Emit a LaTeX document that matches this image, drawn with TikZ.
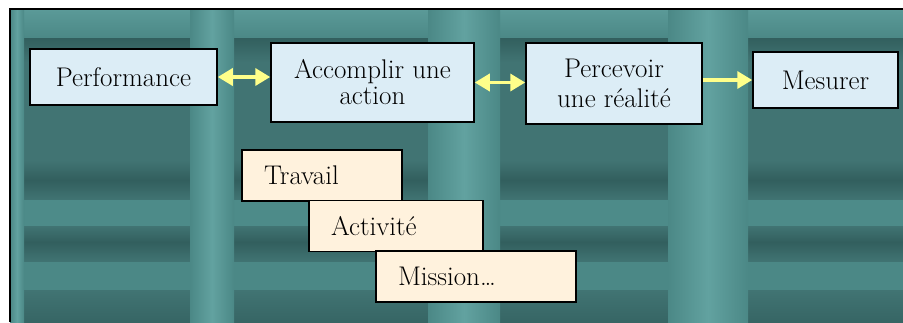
\documentclass[tikz,border=0pt]{standalone}
\usepackage{fontspec}
\usetikzlibrary{arrows.meta}

\definecolor{tealbase}{HTML}{4B8886}
\definecolor{tealdark}{HTML}{325F5E}
\definecolor{tealmid}{HTML}{417473}
\definecolor{teallight}{HTML}{62A2A0}
\definecolor{boxblue}{HTML}{DCEDF6}
\definecolor{boxcream}{HTML}{FFF2DD}
\definecolor{arrowyellow}{HTML}{FFFF8A}

\tikzset{
  bluebox/.style={draw=black, line width=1.5pt, fill=boxblue, align=center,
    inner sep=0pt, font=\fontsize{27}{26}\selectfont},
  creambox/.style={draw=black, line width=1.5pt, fill=boxcream, align=left,
    inner xsep=22pt, inner ysep=0pt, minimum height=51pt,
    font=\fontsize{27}{26}\selectfont},
  link/.style={arrowyellow, line width=3.5pt, -{Triangle[length=15pt,width=17pt]}},
  twolink/.style={link, {Triangle[length=15pt,width=17pt]}-{Triangle[length=15pt,width=17pt]}}
}

\begin{document}
\begin{tikzpicture}[x=1pt, y=-1pt]
    \useasboundingbox (0,0) rectangle (903,322);

    % Background: shutters
    \fill[tealbase] (10,9) rectangle (903,322);
    \fill[top color=teallight!70!tealbase, bottom color=tealbase] (10,9) rectangle (903,38);
    \foreach \xa/\xb in {22/192, 232/430, 498/670, 746/903} {
        \fill[top color=tealdark, bottom color=tealmid] (\xa,38) rectangle (\xb,62);
        \fill[tealmid] (\xa,62) rectangle (\xb,160);
        \fill[top color=tealmid, bottom color=tealdark] (\xa,160) rectangle (\xb,180);
        \fill[top color=tealdark, bottom color=tealmid] (\xa,180) rectangle (\xb,200);
        \fill[tealbase!90!teallight] (\xa,200) rectangle (\xb,226);
        \fill[top color=tealmid, bottom color=tealdark] (\xa,226) rectangle (\xb,242);
        \fill[top color=tealdark, bottom color=tealmid] (\xa,242) rectangle (\xb,262);
        \fill[tealbase] (\xa,262) rectangle (\xb,290);
        \fill[top color=tealmid, bottom color=tealdark!70!tealmid] (\xa,290) rectangle (\xb,322);
    }
    \foreach \xa/\xb in {10/24, 190/234, 428/500, 668/748} {
        \fill[left color=tealbase, right color=tealbase, middle color=teallight]
            (\xa,9) rectangle (\xb,322);
    }
    \draw[black, line width=1.5pt] (10,322) -- (10,9) -- (903,9);

    % Nodes
    \node[bluebox, minimum width=187pt, minimum height=56pt] (perf) at (123.5,77) {Performance};
    \node[bluebox, minimum width=203pt, minimum height=79pt] (act) at (372.5,82.5) {Accomplir une\\action};
    \node[bluebox, minimum width=176pt, minimum height=81pt] (perc) at (614,83.5) {Percevoir\\[4pt]une réalité};
    \node[bluebox, minimum width=145pt, minimum height=56pt] (mes) at (825.5,80) {Mesurer};

    \node[creambox, text width=116pt] (trav) at (322,175.5) {Travail};
    \node[creambox, text width=130pt] (activ) at (396,226) {Activité};
    \node[creambox, text width=156pt] (miss) at (476,276.5) {Mission\ldots};

    % Arrows
    \draw[twolink] (perf.east) -- (perf.east -| act.west);
    \draw[twolink] (act.east) -- (act.east -| perc.west);
    \draw[link] (perc.east |- mes.west) -- (mes.west);
\end{tikzpicture}
\end{document}
